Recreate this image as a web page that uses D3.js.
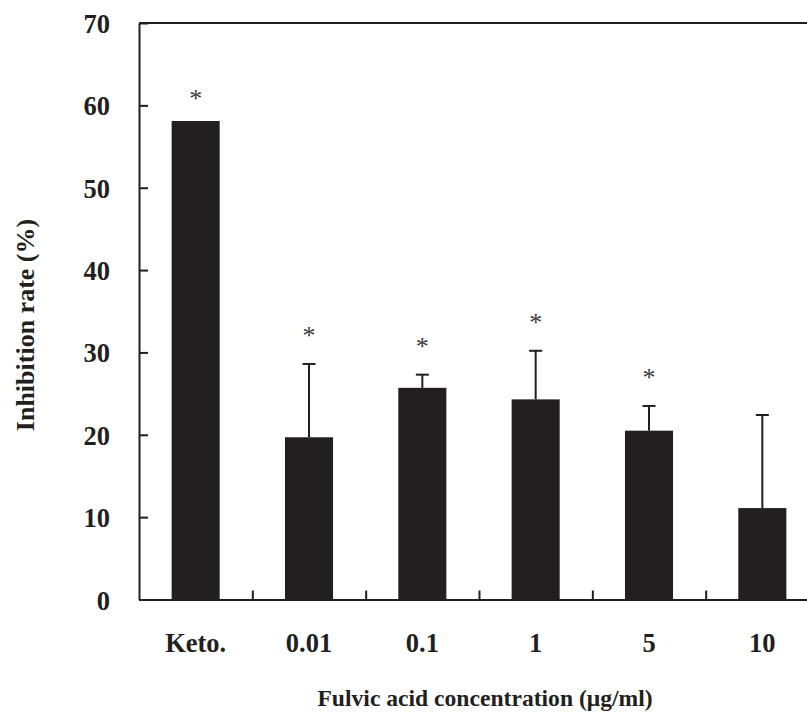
<!DOCTYPE html>
<html>
<head>
<meta charset="utf-8">
<script src="https://cdn.jsdelivr.net/npm/d3@7"></script>
<style>
  body { margin: 0; background: #fff; }
  svg { display: block; font-family: "Liberation Serif", "Times New Roman", serif; }
</style>
</head>
<body>
<div id="plot"></div>
<script>
// data
var categories = ["Keto.", "0.01", "0.1", "1", "5", "10"]
var means = [58.1, 19.7, 25.7, 24.3, 20.5, 11.1]
var errors = [0, 8.9, 1.6, 5.9, 3.0, 11.3]
var significant = [true, true, true, true, true, false]
var yTicks = [0, 10, 20, 30, 40, 50, 60, 70]

var svgWidth = 807
var svgHeight = 716

// plot area runs past the right edge, the original is cropped there
var margin = { top: 23, left: 139 }
var plotRight = 819
var plotBottom = 599.5

var ink = "#231f20"

var svg = d3.select("#plot")
  .append("svg")
  .attr("width", svgWidth)
  .attr("height", svgHeight)

var x = d3.scaleBand()
  .domain(categories)
  .range([margin.left, plotRight])
  .paddingInner(0.576)
  .paddingOuter(0.288)

var y = d3.scaleLinear()
  .domain([0, 70])
  .range([plotBottom, margin.top])

var step = x.step()

// bars
svg.selectAll("rect.bar")
  .data(means)
  .enter()
  .append("rect")
  .attr("class", "bar")
  .attr("x", (d, i) => x(categories[i]))
  .attr("y", d => y(d))
  .attr("width", x.bandwidth())
  .attr("height", d => plotBottom - y(d))
  .attr("fill", ink)

// error bars (upper only)
var errGroup = svg.append("g")
  .attr("stroke", ink)
  .attr("stroke-width", 2)

means.forEach((m, i) => {
  if (!errors[i]) return
  var cx = x(categories[i]) + x.bandwidth() / 2
  errGroup.append("line")
    .attr("x1", cx).attr("x2", cx)
    .attr("y1", y(m)).attr("y2", y(m + errors[i]))
  errGroup.append("line")
    .attr("x1", cx - 6.5).attr("x2", cx + 6.5)
    .attr("y1", y(m + errors[i])).attr("y2", y(m + errors[i]))
})

// asterisks over the significant groups
var starIdx = d3.range(categories.length).filter(i => significant[i])
svg.selectAll("text.star")
  .data(starIdx)
  .enter()
  .append("text")
  .attr("class", "star")
  .attr("x", i => x(categories[i]) + x.bandwidth() / 2)
  .attr("y", i => y(means[i] + errors[i]) - (errors[i] ? 31 : 25) + 11)
  .attr("text-anchor", "middle")
  .style("font-size", "26px")
  .style("fill", "#3a3a3a")
  .text("*")

// y axis, ticks pointing inward
var leftAxis = d3.axisLeft(y)
  .tickValues(yTicks)
  .tickSizeInner(-9)
  .tickSizeOuter(0)
  .tickPadding(29)

var yAxisG = svg.append("g")
  .attr("transform", `translate(${margin.left},0)`)
  .call(leftAxis)
yAxisG.select(".domain").attr("stroke", ink).attr("stroke-width", 2)
yAxisG.selectAll(".tick line").attr("stroke", ink).attr("stroke-width", 2)
yAxisG.selectAll(".tick text")
  .attr("font-family", "Liberation Serif, serif")
  .style("font-size", "26.5px")
  .style("font-weight", "bold")
  .attr("fill", ink)
  .attr("dy", "0.36em")

// x axis with ticks between categories
var boundaries = categories.slice(0, -1).map(c => x(c) + x.bandwidth() + (step - x.bandwidth()) / 2)
var xPos = d3.scaleLinear().domain([margin.left, plotRight]).range([margin.left, plotRight])
var bottomAxis = d3.axisBottom(xPos)
  .tickValues(boundaries)
  .tickSizeInner(-9)
  .tickSizeOuter(0)
  .tickFormat("")

var xAxisG = svg.append("g")
  .attr("transform", `translate(0,${plotBottom})`)
  .call(bottomAxis)
xAxisG.select(".domain").attr("stroke", ink).attr("stroke-width", 2)
xAxisG.selectAll(".tick line").attr("stroke", ink).attr("stroke-width", 2)

// category labels
svg.selectAll("text.cat")
  .data(categories)
  .enter()
  .append("text")
  .attr("class", "cat")
  .attr("x", d => x(d) + x.bandwidth() / 2)
  .attr("y", 652)
  .attr("text-anchor", "middle")
  .style("font-size", "26.5px")
  .style("font-weight", "bold")
  .style("fill", ink)
  .text(d => d)

// top frame line
svg.append("line")
  .attr("x1", margin.left).attr("x2", plotRight)
  .attr("y1", y(70)).attr("y2", y(70))
  .attr("stroke", ink)
  .attr("stroke-width", 2)

// axis titles
svg.append("text")
  .attr("x", 485)
  .attr("y", 706)
  .attr("text-anchor", "middle")
  .style("font-size", "23.6px")
  .style("font-weight", "bold")
  .style("fill", ink)
  .text("Fulvic acid concentration (μg/ml)")

svg.append("text")
  .attr("transform", "translate(34,325) rotate(-90)")
  .attr("text-anchor", "middle")
  .style("font-size", "26px")
  .style("font-weight", "bold")
  .style("fill", ink)
  .text("Inhibition rate (%)")
</script>
</body>
</html>
